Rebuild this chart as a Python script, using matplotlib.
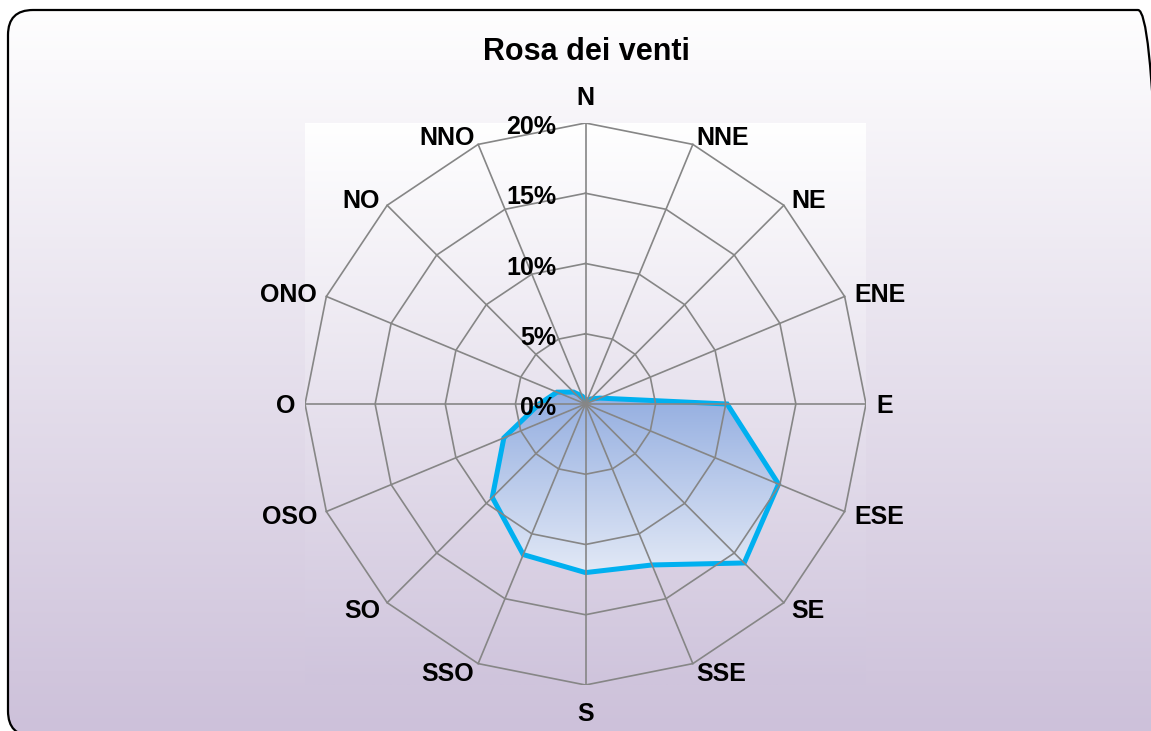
import numpy as np
import matplotlib.pyplot as plt
from matplotlib.patches import FancyBboxPatch, Polygon
from matplotlib.colors import LinearSegmentedColormap

plt.rcParams['font.family'] = ['Liberation Sans', 'DejaVu Sans']

# frequenza per direzione (%)
directions = ['N', 'NNE', 'NE', 'ENE', 'E', 'ESE', 'SE', 'SSE',
              'S', 'SSO', 'SO', 'OSO', 'O', 'ONO', 'NO', 'NNO']
freq = [0.3, 0.3, 0.5, 1.1, 10.1, 14.9, 16.0, 12.4,
        12.0, 11.6, 9.4, 6.3, 3.3, 2.2, 1.2, 0.6]
levels = [0, 5, 10, 15, 20]
rmax = 20

# angoli in senso orario partendo da nord
theta = np.deg2rad(90 - np.arange(len(directions)) * 360 / len(directions))
theta_c = np.append(theta, theta[0])

fig = plt.figure(figsize=(11.51, 7.31), dpi=100)

# cornice arrotondata (in pollici, origine in basso a sinistra)
frame = FancyBboxPatch((0.08, -0.05), 11.55, 7.26, boxstyle='round,pad=0,rounding_size=0.25',
                       transform=fig.dpi_scale_trans, facecolor='none',
                       edgecolor='black', lw=1.6, zorder=5)
fig.add_artist(frame)

# sfondo sfumato
bg = fig.add_axes([0, 0, 1, 1], zorder=-1)
bg.axis('off')
cmap_bg = LinearSegmentedColormap.from_list('bg', ['#ffffff', '#cdc1da'])
im = bg.imshow(np.linspace(0, 1, 256).reshape(-1, 1), cmap=cmap_bg, aspect='auto',
               extent=[0, 1, 0, 1], origin='upper')
im.set_clip_path(frame)
bg.set_xlim(0, 1)
bg.set_ylim(0, 1)

# area del tracciato
ax = fig.add_axes([305 / 1151, 46 / 731, 561 / 1151, 562 / 731])
ax.axis('off')
cmap_pa = LinearSegmentedColormap.from_list('pa', ['#ffffff', '#cfc4dc'])
ax.imshow(np.linspace(0, 1, 256).reshape(-1, 1), cmap=cmap_pa, aspect='auto',
          extent=[-rmax, rmax, -rmax, rmax], origin='upper', zorder=0)

# serie
r = np.array(freq + [freq[0]])
x = r * np.cos(theta_c)
y = r * np.sin(theta_c)
poly = Polygon(np.column_stack([x, y]), closed=True, facecolor='none', edgecolor='none')
ax.add_patch(poly)
cmap_fill = LinearSegmentedColormap.from_list('fill', ['#93ade0', '#e2e9f6'])
fill = ax.imshow(np.linspace(0, 1, 256).reshape(-1, 1), cmap=cmap_fill, aspect='auto',
                 extent=[x.min(), x.max(), y.min(), y.max()], origin='upper', zorder=1)
fill.set_clip_path(poly)
ax.plot(x, y, color='#00b0f0', lw=3.6, solid_joinstyle='miter', zorder=2)

# griglia poligonale
for lev in levels[1:]:
    ax.plot(lev * np.cos(theta_c), lev * np.sin(theta_c), color='#868686', lw=1.2, zorder=3)
for t in theta:
    ax.plot([0, rmax * np.cos(t)], [0, rmax * np.sin(t)], color='#868686', lw=1.2, zorder=3)

# etichette dei valori
for lev in levels:
    ax.annotate(f'{lev}%', xy=(0, lev), xytext=(-21, -3), textcoords='offset points',
                ha='right', va='center', fontsize=18, fontweight='bold', zorder=5)

# etichette delle direzioni, accostate al vertice esterno
for name, t in zip(directions, theta):
    c, s = np.cos(t), np.sin(t)
    if abs(c) < 0.1:
        ha, off = 'center', (0, 27 * np.sign(s))
    else:
        ha, off = ('left' if c > 0 else 'right'), (10 * c, 9 * s)
    ax.annotate(name, xy=(rmax * c, rmax * s),
                xytext=(off[0] * 0.72, (off[1] - 2) * 0.72), textcoords='offset points',
                ha=ha, va='center', fontsize=18, fontweight='bold',
                annotation_clip=False, zorder=5)

ax.set_xlim(-rmax, rmax)
ax.set_ylim(-rmax, rmax)

fig.text(586 / 1151, 1 - 60.5 / 731, 'Rosa dei venti', ha='center', va='baseline',
         fontsize=22, fontweight='bold')

plt.savefig('out.png', dpi=100)
